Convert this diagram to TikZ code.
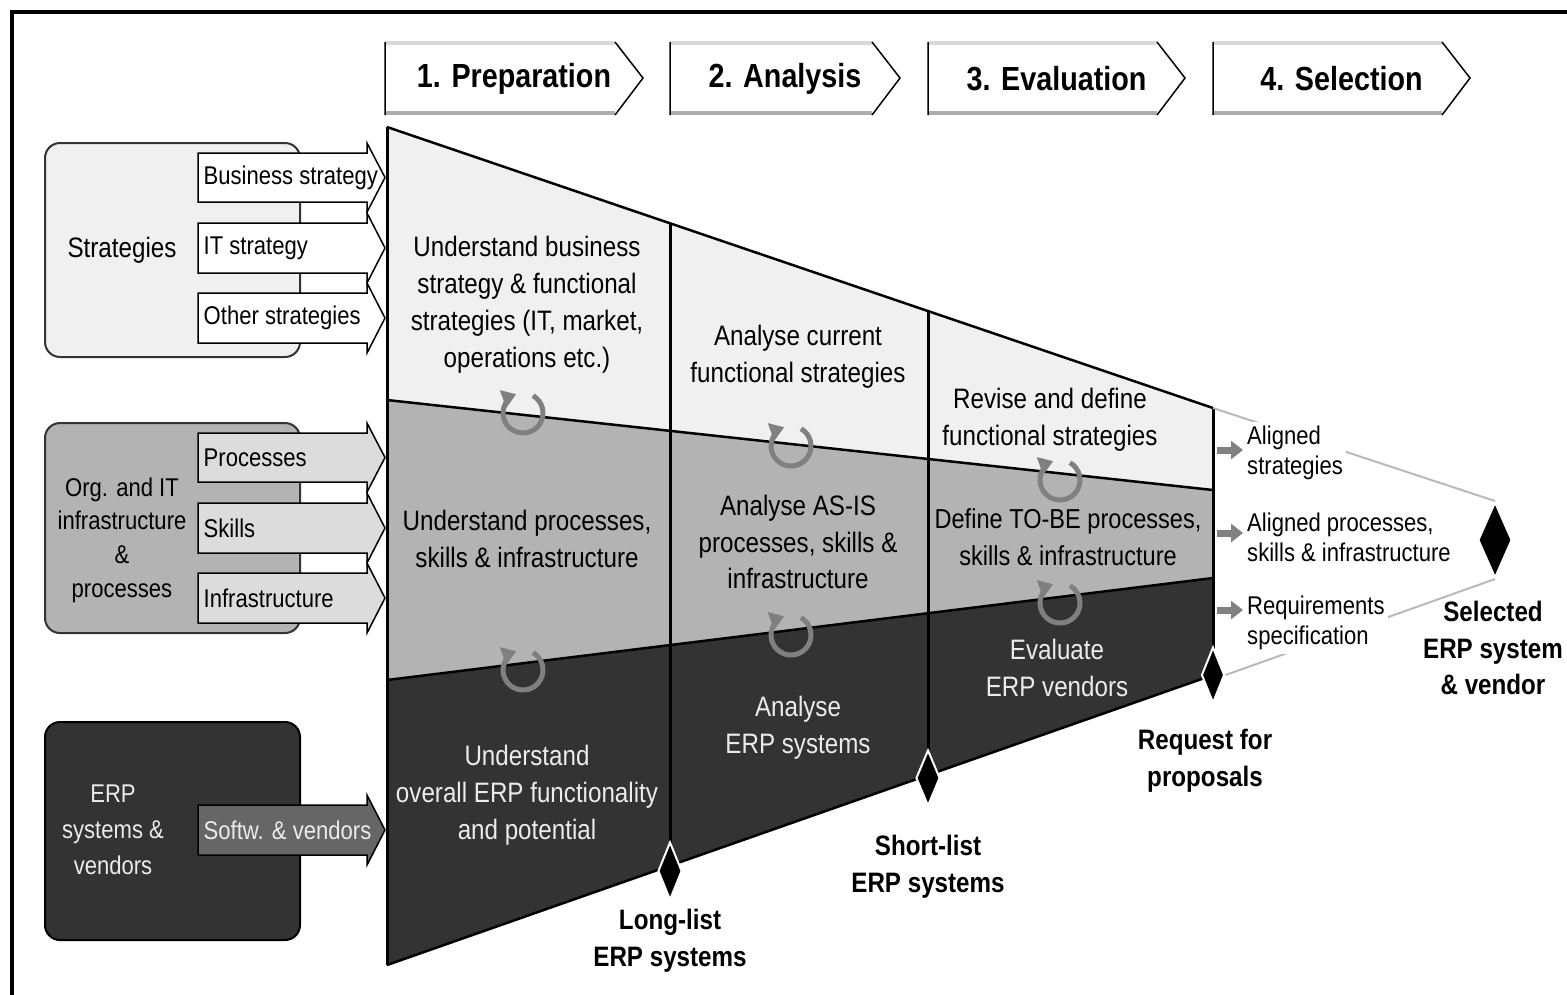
\documentclass[tikz,border=0pt]{standalone}
\usepackage{fontspec}
\setmainfont{Liberation Sans}[FakeStretch=0.86]
\usepackage{tikz}
\usetikzlibrary{arrows.meta,shapes.geometric,positioning}
\definecolor{bandlight}{RGB}{240,240,240}
\definecolor{bandmid}{RGB}{179,179,179}
\definecolor{banddark}{RGB}{51,51,51}
\definecolor{ringgray}{RGB}{128,128,128}
\definecolor{inputgray}{RGB}{220,220,220}
\definecolor{softgray}{RGB}{102,102,102}

% input arrow: name, top, bottom, fill, label, text colour
\newcommand{\feedarrow}[6]{%
  \filldraw[fill=#4,draw=black,line width=0.15mm] (198,#2) -- (367,#2) -- (367,#2-10) -- (385,{(#2+#3)/2}) -- (367,#3+10) -- (367,#3) -- (198,#3) -- cycle;
  \node[inlab,anchor=west,text=#6] (#1) at (203,{(#2+#3)/2}) {#5};}

\begin{document}
\begin{tikzpicture}[x=0.1mm,y=-0.1mm,
  every node/.style={inner sep=0pt},
  body/.style={align=center,font=\fontsize{8}{10.5}\selectfont},
  lighttext/.style={body,text=black!8},
  phaselab/.style={font=\fontsize{9.5}{11}\selectfont\bfseries},
  inlab/.style={font=\fontsize{7.3}{8.6}\selectfont},
  sidelab/.style={align=center,font=\fontsize{7.3}{9.6}\selectfont},
  outlab/.style={align=left,font=\fontsize{7.3}{8.6}\selectfont,fill=white,inner sep=1pt},
  declab/.style={align=center,font=\fontsize{8}{10.5}\selectfont\bfseries},
  milestone/.style={diamond,fill=black,draw=white,line width=0.2mm,inner sep=0pt},
  ring/.style={draw=ringgray,line width=0.5mm,-{Triangle[width=1.8mm,length=1.4mm]}},
  outarrow/.style={draw=ringgray,line width=0.7mm,-{Triangle[width=1.8mm,length=1.2mm]}},
  bandline/.style={line width=0.25mm}]
  \useasboundingbox (0,0) rectangle (1567,994);
  \draw[line width=0.4mm] (12,1000) -- (12,12) -- (1575,12);

  % phases
  \foreach \x/\w/\lab [count=\i] in {385/230/1. Preparation,670/202/2. Analysis,928/229/3. Evaluation,1213/229/4. Selection}{
    \fill[white] (\x,42) -- (\x+\w,42) -- (\x+\w+28,78) -- (\x+\w,115) -- (\x,115) -- cycle;
    \draw[gray!30,line width=0.35mm] (\x,43) -- (\x+\w,43);
    \draw[gray!65,line width=0.45mm] (\x,113) -- (\x+\w,113);
    \draw[line width=0.15mm] (\x,42) -- (\x,115) (\x+\w,42) -- (\x+\w+28,78) -- (\x+\w,115);
    \node[phaselab] (phase\i) at (\x+\w/2+14,79) {\lab};
  }

  % inputs
  \draw[rounded corners=1.5mm,fill=bandlight,draw=black!80,line width=0.2mm] (45,143) rectangle (300,357);
  \node[body] (strat) at (122,250) {Strategies};
  \feedarrow{busstrat}{153}{202}{white}{Business strategy}{black}
  \feedarrow{itstrat}{223}{273}{white}{IT strategy}{black}
  \feedarrow{othstrat}{293}{343}{white}{Other strategies}{black}

  \draw[rounded corners=1.5mm,fill=bandmid,draw=black!80,line width=0.2mm] (45,423) rectangle (300,633);
  \node[sidelab] (orginfra) at (122,540) {Org. and IT\\infrastructure\\\&\\processes};
  \feedarrow{proc}{433}{482}{inputgray}{Processes}{black}
  \feedarrow{skills}{503}{553}{inputgray}{Skills}{black}
  \feedarrow{infra}{573}{623}{inputgray}{Infrastructure}{black}

  \draw[rounded corners=1.5mm,fill=banddark,draw=black,line width=0.2mm] (45,722) rectangle (300,940);
  \node[sidelab,text=black!8,font=\fontsize{7.3}{10.3}\selectfont] (erpsys) at (113,830) {ERP\\systems \&\\vendors};
  \feedarrow{softw}{805}{855}{softgray}{Softw. \& vendors}{black!8}

  % funnel
  \coordinate (ftl) at (387,127);
  \coordinate (ftr) at (1213,408);
  \coordinate (fbl) at (387,965);
  \coordinate (fbr) at (1213,675);
  \fill[bandlight] (ftl) -- (ftr) -- (1213,490) -- (387,400) -- cycle;
  \fill[bandmid] (387,400) -- (1213,490) -- (1213,578) -- (387,680) -- cycle;
  \fill[banddark] (387,680) -- (1213,578) -- (fbr) -- (fbl) -- cycle;
  \draw[bandline] (ftl) -- (ftr);
  \draw[bandline] (387,400) -- (1213,490);
  \draw[bandline] (387,680) -- (1213,578);
  \draw[bandline] (fbl) -- (fbr);
  \draw[line width=0.3mm] (ftl) -- (fbl);
  \draw[line width=0.3mm] (670,224) -- (670,866);
  \draw[line width=0.3mm] (928,311) -- (928,777);
  \draw[line width=0.3mm] (ftr) -- (1213,650);

  \foreach \cx/\cy in {523/413,523/670,791/446,791/635,1060/480,1060/603}
    \draw[ring] (\cx,\cy) ++(60:2mm) arc[start angle=60,end angle=-250,radius=2mm];

  \node[body] (prep1) at (527,305) {Understand business\\strategy \& functional\\strategies (IT, market,\\operations etc.)};
  \node[body] (prep2) at (527,539) {Understand processes,\\skills \& infrastructure};
  \node[lighttext] (prep3) at (527,795) {Understand\\overall ERP functionality\\and potential};
  \node[body] (ana1) at (798,357) {Analyse current\\functional strategies};
  \node[body] (ana2) at (798,542) {Analyse AS-IS\\processes, skills \&\\infrastructure};
  \node[lighttext] (ana3) at (798,728) {Analyse\\ERP systems};
  \node[body] (eva1) at (1050,420) {Revise and define\\functional strategies};
  \node[body,font=\fontsize{7.8}{10.5}\selectfont] (eva2) at (1068,537) {Define TO-BE processes,\\skills \& infrastructure};
  \node[lighttext] (eva3) at (1057,668) {Evaluate\\ERP vendors};

  % milestones
  \node[milestone,minimum width=2.4mm,minimum height=5.8mm] (longD) at (670,871) {};
  \node[milestone,minimum width=2.4mm,minimum height=5.6mm] (shortD) at (928,778) {};
  \node[milestone,minimum width=2.3mm,minimum height=5.6mm] (reqD) at (1213,675) {};
  \node[milestone,minimum width=3.4mm,minimum height=7.6mm] (selD) at (1495,540) {};
  \draw[gray!55,line width=0.2mm] (ftr) -- (selD.north);
  \draw[gray!55,line width=0.2mm] (reqD.east) -- (selD.south);

  \node[declab] (longlab) at (670,941) {Long-list\\ERP systems};
  \node[declab] (shortlab) at (928,867) {Short-list\\ERP systems};
  \node[declab] (reqlab) at (1205,761) {Request for\\proposals};
  \node[declab] (sellab) at (1493,648) {Selected\\ERP system\\\& vendor};

  % outputs
  \node[outlab,anchor=west] (alstrat) at (1243,453) {Aligned\\strategies};
  \node[outlab,anchor=west] (alproc) at (1243,537) {Aligned processes,\\skills \& infrastructure};
  \node[outlab,anchor=west] (reqspec) at (1243,623) {Requirements\\specification};
  \coordinate (o1) at (1217,450);
  \coordinate (o2) at (1217,533);
  \coordinate (o3) at (1217,610);
  \draw[outarrow] (o1) -- (o1 -| alstrat.west);
  \draw[outarrow] (o2) -- (o2 -| alproc.west);
  \draw[outarrow] (o3) -- (o3 -| reqspec.west);
\end{tikzpicture}
\end{document}
